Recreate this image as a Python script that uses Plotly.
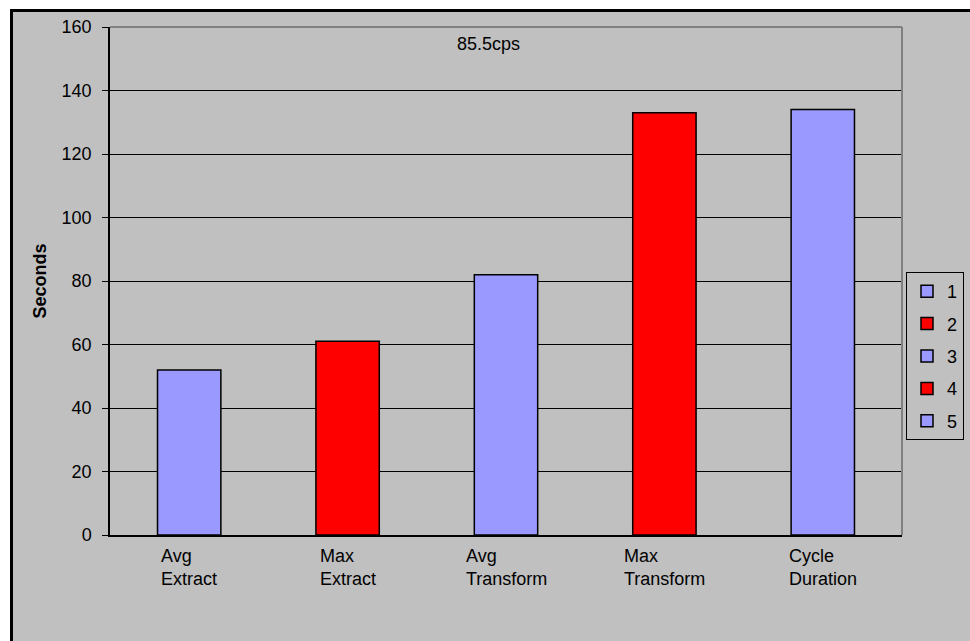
import plotly.graph_objects as go

# ---- data ----
categories = ["Avg Extract", "Max Extract", "Avg Transform", "Max Transform", "Cycle Duration"]
label_line1 = ["Avg", "Max", "Avg", "Max", "Cycle"]
label_line2 = ["Extract", "Extract", "Transform", "Transform", "Duration"]
values = [52, 61, 82, 133, 134]
series_names = ["1", "2", "3", "4", "5"]
colors = ["#9999FF", "#FF0000", "#9999FF", "#FF0000", "#9999FF"]
y_title = "Seconds"
note = "85.5cps"

W, H = 970, 641
L, R, T, B = 110, 68, 27, 106
PW, PH = W - L - R, H - T - B

def px_x(p):
    return (p - L) / PW

def px_y(p):
    return (H - B - p) / PH

FONT = "Liberation Sans, Arial, sans-serif"
GRAY = "#C0C0C0"

fig = go.Figure()
for i, (cat, v, name, c) in enumerate(zip(categories, values, series_names, colors)):
    fig.add_trace(go.Bar(
        x=[cat], y=[v], name=name, width=0.4,
        marker=dict(color=c, line=dict(color="black", width=1.5)),
        legendgroup=name,
    ))

# category labels (two lines, left aligned as in the original)
for cat, a, b in zip(categories, label_line1, label_line2):
    fig.add_annotation(
        x=cat, xref="x", y=px_y(544), yref="paper",
        text=f"{a}<br>{b}", showarrow=False, align="left",
        xanchor="center", yanchor="top",
        font=dict(family=FONT, size=18, color="black"),
    )

fig.add_annotation(
    x=px_x(488), xref="paper", y=px_y(44), yref="paper",
    text=note, showarrow=False, xanchor="center", yanchor="middle",
    font=dict(family=FONT, size=18, color="black"),
)

# outer chart area with black frame
fig.add_shape(type="rect", xref="paper", yref="paper",
              x0=px_x(11.5), x1=px_x(1010), y0=px_y(700), y1=px_y(10.5),
              fillcolor=GRAY, line=dict(color="black", width=3), layer="below")
# plot area top / right border in dark gray
fig.add_shape(type="line", xref="paper", yref="paper", x0=0, x1=1, y0=1, y1=1,
              line=dict(color="#808080", width=2), layer="above")
fig.add_shape(type="line", xref="paper", yref="paper", x0=1, x1=1, y0=0, y1=1,
              line=dict(color="#808080", width=2), layer="above")

fig.update_layout(
    width=W, height=H,
    margin=dict(l=L, r=R, t=T, b=B, pad=0, autoexpand=False),
    paper_bgcolor="white", plot_bgcolor=GRAY,
    barmode="overlay",
    font=dict(family=FONT, size=18, color="black"),
    showlegend=True,
    legend=dict(
        x=px_x(906), xanchor="left", y=px_y(356), yanchor="middle",
        bgcolor=GRAY, bordercolor="black", borderwidth=1,
        font=dict(family=FONT, size=18, color="black"),
        tracegroupgap=6, itemwidth=30,
    ),
    xaxis=dict(
        showticklabels=False, showgrid=False, showline=True,
        linecolor="black", linewidth=1.5, ticks="",
        categoryorder="array", categoryarray=categories,
        fixedrange=True,
    ),
    yaxis=dict(
        range=[0, 160], dtick=20, showgrid=True, gridcolor="black", gridwidth=1,
        showline=True, linecolor="black", linewidth=1.5,
        ticks="outside", ticklen=6, tickcolor="black",
        ticklabelstandoff=7,
        zeroline=False,
        title=dict(text=f"<b>{y_title}</b>", font=dict(family=FONT, size=18), standoff=10),
        tickfont=dict(family=FONT, size=18),
    ),
)

fig.write_html(
    "out.html",
    config={"displayModeBar": False},
    post_script="document.body.style.margin='0';document.body.style.overflow='hidden';",
)
